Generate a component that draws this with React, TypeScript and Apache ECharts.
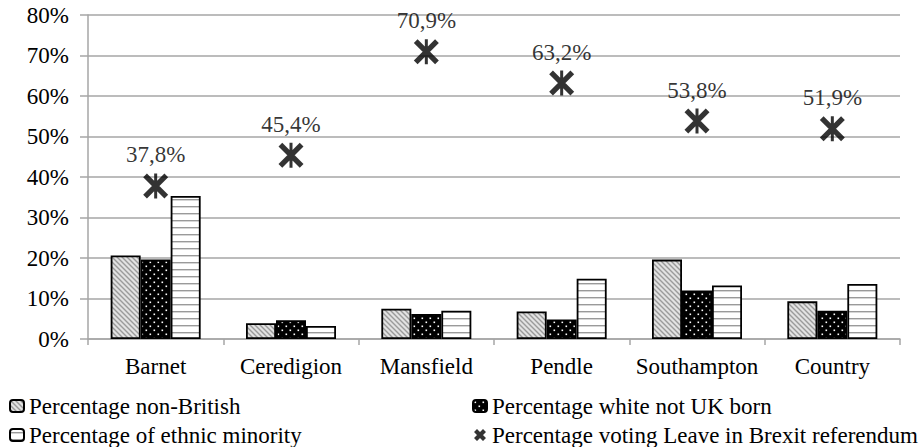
import React, { useEffect, useRef } from "react";
import * as echarts from "echarts";

const categories = ["Barnet", "Ceredigion", "Mansfield", "Pendle", "Southampton", "Country"];
const nonBritish = [20.6, 3.9, 7.5, 6.8, 19.6, 9.3];
const whiteNotUK = [19.6, 4.6, 6.2, 4.8, 12.0, 7.0];
const ethnicMinority = [35.3, 3.2, 7.0, 14.9, 13.2, 13.6];
const leaveVote = [37.8, 45.4, 70.9, 63.2, 53.8, 51.9];
const yTicks = { min: 0, max: 80, interval: 10 };

const names = {
  nb: "Percentage non-British",
  w: "Percentage white not UK born",
  e: "Percentage of ethnic minority",
  l: "Percentage voting Leave in Brexit referendum",
};

const FONT = "Liberation Serif";
const FS = 23;
const TEXT = "#000";
const GRID = "#a6a6a6";

const STAR = "path://M0,3L3,0L20,17L17,20Z M17,0L20,3L3,20L0,17Z M8.8,0L11.2,0L11.2,20L8.8,20Z";
const XICON = "path://M0,5L5,0L20,15L15,20Z M15,0L20,5L5,20L0,15Z";

function makePattern(w: number, h: number, draw: (c: CanvasRenderingContext2D) => void) {
  const cv = document.createElement("canvas");
  cv.width = w;
  cv.height = h;
  const ctx = cv.getContext("2d")!;
  draw(ctx);
  return { image: cv.toDataURL(), repeat: "repeat", imageWidth: w, imageHeight: h } as any;
}

export default function App() {
  const ref = useRef<HTMLDivElement>(null);
  useEffect(() => {
    if (!ref.current) return;
    const chart = echarts.init(ref.current, undefined, { renderer: "svg" });

    const diag = makePattern(5, 5, (c) => {
      c.fillStyle = "#e2e2e2";
      c.fillRect(0, 0, 5, 5);
      c.strokeStyle = "#9a9a9a";
      c.lineWidth = 1.4;
      c.beginPath();
      c.moveTo(-1, -1);
      c.lineTo(6, 6);
      c.moveTo(-1, 4);
      c.lineTo(1, 6);
      c.moveTo(4, -1);
      c.lineTo(6, 1);
      c.stroke();
    });
    const dots = makePattern(8, 8, (c) => {
      c.fillStyle = "#000";
      c.fillRect(0, 0, 8, 8);
      c.fillStyle = "#fff";
      c.fillRect(1.5, 1.5, 1.6, 1.6);
      c.fillRect(5.5, 5.5, 1.6, 1.6);
    });
    const hlines = makePattern(8, 7, (c) => {
      c.fillStyle = "#fff";
      c.fillRect(0, 0, 8, 7);
      c.fillStyle = "#9a9a9a";
      c.fillRect(0, 3, 8, 1.4);
    });

    const barBase = {
      type: "bar",
      barWidth: 30,
      barGap: "0%",
    };

    const legendText = { fontFamily: FONT, fontSize: FS, color: TEXT, lineHeight: 24 };

    chart.setOption({
      animation: false,
      textStyle: { fontFamily: FONT },
      grid: { left: 88, right: 21, top: 15, bottom: 108, containLabel: false },
      legend: [
        {
          orient: "vertical",
          left: 9,
          top: 394,
          padding: 0,
          itemGap: 5,
          itemWidth: 14,
          itemHeight: 12,
          textStyle: legendText,
          data: [names.nb, names.e],
        },
        {
          orient: "vertical",
          left: 472,
          top: 394,
          padding: 0,
          itemGap: 5,
          itemWidth: 14,
          itemHeight: 12,
          textStyle: legendText,
          data: [names.w, { name: names.l, icon: XICON, itemStyle: { color: "#000" } }],
        },
      ],
      xAxis: {
        type: "category",
        data: categories,
        axisLine: { show: true, lineStyle: { color: GRID, width: 1.5 } },
        axisTick: { show: true, length: 6, lineStyle: { color: GRID, width: 1.5 } },
        axisLabel: { interval: 0, fontFamily: FONT, fontSize: FS, color: TEXT, margin: 16 },
      },
      yAxis: {
        type: "value",
        min: yTicks.min,
        max: yTicks.max,
        interval: yTicks.interval,
        axisLine: { show: true, lineStyle: { color: GRID, width: 1.5 } },
        axisTick: { show: true, length: 8, lineStyle: { color: GRID, width: 1.5 } },
        splitLine: { show: true, lineStyle: { color: GRID, width: 1.5 } },
        axisLabel: { fontFamily: FONT, fontSize: FS, color: TEXT, margin: 19, formatter: "{value}%" },
      },
      series: [
        {
          ...barBase,
          name: names.nb,
          data: nonBritish,
          itemStyle: { color: diag, borderColor: "#000", borderWidth: 1.8 },
        },
        {
          ...barBase,
          name: names.w,
          data: whiteNotUK,
          itemStyle: { color: dots, borderColor: "#000", borderWidth: 1.8 },
        },
        {
          ...barBase,
          name: names.e,
          data: ethnicMinority,
          itemStyle: { color: hlines, borderColor: "#000", borderWidth: 1.8 },
        },
        {
          type: "scatter",
          name: names.l,
          data: leaveVote,
          symbol: STAR,
          symbolSize: [25, 25],
          itemStyle: { color: "#000" },
          z: 5,
          label: {
            show: true,
            position: "top",
            distance: 7,
            fontFamily: FONT,
            fontSize: FS,
            color: TEXT,
            formatter: (p: any) => p.value.toFixed(1).replace(".", ",") + "%",
          },
        },
      ],
    });
    return () => chart.dispose();
  }, []);
  return (
    <div
      ref={ref}
      style={{ position: "fixed", left: 0, top: 0, width: 921, height: 447, background: "#fff" }}
    />
  );
}
